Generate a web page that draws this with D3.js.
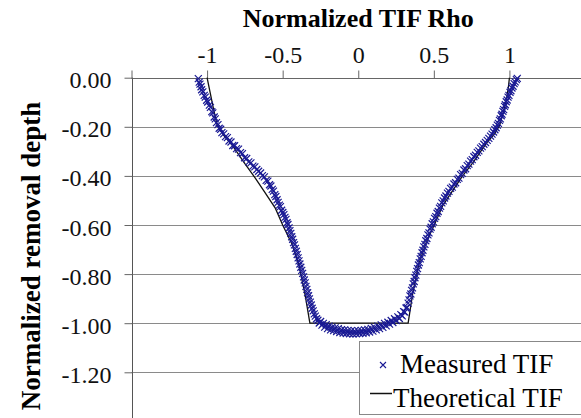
<!DOCTYPE html>
<html>
<head>
<meta charset="utf-8">
<script src="https://cdn.jsdelivr.net/npm/d3@7"></script>
<style>
  body { margin: 0; background: #fff; }
</style>
</head>
<body>
<div id="tif-chart"></div>
<script>
// tick values / labels
const xTicks = [-1.5, -1, -0.5, 0, 0.5, 1, 1.5];
const xTickLabels = ["", "-1", "-0.5", "0", "0.5", "1", ""];
const yTicks = [0, -0.2, -0.4, -0.6, -0.8, -1.0, -1.2];
const yTickLabels = ["0.00", "-0.20", "-0.40", "-0.60", "-0.80", "-1.00", "-1.20"];

// theoretical TIF profile [rho, depth]
const theoreticalTIF = [
  [-1.0, 0.0], [-0.98, -0.06], [-0.96, -0.12], [-0.935, -0.19], [-0.89, -0.235],
  [-0.84, -0.27], [-0.80, -0.305], [-0.75, -0.35], [-0.68, -0.41], [-0.62, -0.465],
  [-0.55, -0.53], [-0.50, -0.60], [-0.44, -0.675], [-0.39, -0.77], [-0.35, -0.89],
  [-0.32, -1.0], [0.33, -1.0], [0.36, -0.88], [0.40, -0.76], [0.45, -0.67],
  [0.51, -0.59], [0.56, -0.52], [0.63, -0.455], [0.69, -0.40], [0.76, -0.345],
  [0.81, -0.30], [0.85, -0.265], [0.90, -0.23], [0.935, -0.195], [0.96, -0.14],
  [0.98, -0.09], [0.993, -0.04], [1.0, 0.0]
];

// measured TIF [rho, depth]
const measuredTIF = [
  [-1.058, -0.004], [-1.052, -0.018], [-1.047, -0.026], [-1.040, -0.037], [-1.036, -0.049],
  [-1.028, -0.058], [-1.019, -0.072], [-1.012, -0.079], [-1.003, -0.092], [-0.996, -0.099],
  [-0.985, -0.112], [-0.978, -0.121], [-0.969, -0.138], [-0.962, -0.143], [-0.953, -0.160],
  [-0.946, -0.168], [-0.938, -0.183], [-0.928, -0.191], [-0.920, -0.206], [-0.910, -0.210],
  [-0.902, -0.224], [-0.890, -0.229], [-0.878, -0.240], [-0.866, -0.244], [-0.855, -0.258],
  [-0.842, -0.262], [-0.830, -0.276], [-0.818, -0.277], [-0.805, -0.289], [-0.792, -0.291],
  [-0.779, -0.305], [-0.766, -0.309], [-0.752, -0.326], [-0.738, -0.329], [-0.724, -0.343],
  [-0.710, -0.347], [-0.697, -0.360], [-0.684, -0.363], [-0.671, -0.374], [-0.659, -0.381],
  [-0.646, -0.388], [-0.634, -0.399], [-0.621, -0.404], [-0.609, -0.418], [-0.598, -0.421],
  [-0.587, -0.436], [-0.578, -0.441], [-0.569, -0.455], [-0.561, -0.462], [-0.552, -0.476],
  [-0.545, -0.484], [-0.537, -0.497], [-0.530, -0.508], [-0.522, -0.519], [-0.515, -0.525],
  [-0.507, -0.540], [-0.499, -0.549], [-0.492, -0.558], [-0.485, -0.569], [-0.478, -0.577],
  [-0.471, -0.591], [-0.465, -0.598], [-0.458, -0.612], [-0.452, -0.623], [-0.446, -0.634],
  [-0.440, -0.648], [-0.434, -0.658], [-0.428, -0.672], [-0.422, -0.681], [-0.416, -0.695],
  [-0.410, -0.707], [-0.404, -0.720], [-0.398, -0.734], [-0.392, -0.746], [-0.386, -0.759],
  [-0.380, -0.772], [-0.374, -0.785], [-0.368, -0.797], [-0.362, -0.811], [-0.357, -0.824],
  [-0.351, -0.836], [-0.346, -0.850], [-0.340, -0.862], [-0.335, -0.876], [-0.329, -0.888],
  [-0.323, -0.901], [-0.317, -0.914], [-0.311, -0.926], [-0.305, -0.939], [-0.298, -0.950],
  [-0.291, -0.962], [-0.284, -0.971], [-0.276, -0.982], [-0.267, -0.988], [-0.258, -0.999],
  [-0.249, -0.993], [-0.240, -1.008], [-0.231, -1.001], [-0.222, -1.016], [-0.212, -1.006],
  [-0.203, -1.022], [-0.193, -1.012], [-0.183, -1.027], [-0.173, -1.016], [-0.163, -1.030],
  [-0.153, -1.019], [-0.143, -1.034], [-0.132, -1.022], [-0.122, -1.038], [-0.111, -1.026],
  [-0.100, -1.040], [-0.090, -1.027], [-0.079, -1.042], [-0.068, -1.029], [-0.057, -1.043],
  [-0.046, -1.030], [-0.035, -1.044], [-0.024, -1.031], [-0.013, -1.043], [-0.002, -1.030],
  [0.009, -1.042], [0.020, -1.029], [0.031, -1.041], [0.042, -1.027], [0.053, -1.039],
  [0.064, -1.025], [0.075, -1.036], [0.086, -1.021], [0.097, -1.032], [0.108, -1.017],
  [0.119, -1.027], [0.130, -1.012], [0.141, -1.022], [0.152, -1.007], [0.163, -1.017],
  [0.174, -1.001], [0.185, -1.011], [0.196, -0.996], [0.207, -1.004], [0.218, -0.989],
  [0.229, -0.997], [0.240, -0.982], [0.251, -0.989], [0.262, -0.974], [0.272, -0.981],
  [0.282, -0.965], [0.291, -0.970], [0.300, -0.953], [0.308, -0.955], [0.316, -0.938],
  [0.323, -0.936], [0.330, -0.918], [0.336, -0.905], [0.342, -0.889], [0.348, -0.881],
  [0.353, -0.866], [0.359, -0.856], [0.364, -0.840], [0.370, -0.830], [0.375, -0.815],
  [0.381, -0.804], [0.387, -0.789], [0.392, -0.778], [0.398, -0.763], [0.404, -0.753],
  [0.410, -0.738], [0.416, -0.728], [0.422, -0.713], [0.428, -0.703], [0.434, -0.689],
  [0.441, -0.679], [0.447, -0.664], [0.454, -0.655], [0.461, -0.640], [0.468, -0.632],
  [0.475, -0.617], [0.482, -0.609], [0.489, -0.595], [0.497, -0.587], [0.505, -0.573],
  [0.513, -0.566], [0.521, -0.552], [0.529, -0.545], [0.537, -0.531], [0.545, -0.524],
  [0.553, -0.510], [0.562, -0.502], [0.571, -0.490], [0.580, -0.482], [0.590, -0.470],
  [0.600, -0.463], [0.611, -0.451], [0.622, -0.446], [0.633, -0.433], [0.644, -0.428],
  [0.655, -0.414], [0.666, -0.409], [0.677, -0.395], [0.688, -0.390], [0.699, -0.376],
  [0.710, -0.371], [0.721, -0.358], [0.732, -0.352], [0.743, -0.340], [0.754, -0.334],
  [0.765, -0.322], [0.776, -0.316], [0.787, -0.304], [0.798, -0.298], [0.809, -0.287],
  [0.820, -0.281], [0.831, -0.271], [0.842, -0.264], [0.853, -0.255], [0.864, -0.247],
  [0.875, -0.238], [0.885, -0.230], [0.895, -0.221], [0.904, -0.212], [0.912, -0.204],
  [0.920, -0.193], [0.927, -0.186], [0.934, -0.174], [0.940, -0.168], [0.946, -0.155],
  [0.951, -0.149], [0.957, -0.137], [0.962, -0.130], [0.968, -0.117], [0.973, -0.110],
  [0.979, -0.098], [0.985, -0.091], [0.991, -0.079], [0.997, -0.072], [1.004, -0.060],
  [1.010, -0.053], [1.017, -0.042], [1.024, -0.035], [1.031, -0.024], [1.038, -0.017],
  [1.046, -0.008], [1.052, -0.003]
];

const width = 581, height = 418;
const blue = "#1a1a94";
const serif = "Liberation Serif";

const svg = d3.select("#tif-chart")
  .append("svg")
    .attr("width", width)
    .attr("height", height)
    .attr("font-family", serif);

svg.append("rect").attr("width", width).attr("height", height).attr("fill", "#fff");

// scales
const x = d3.scaleLinear().domain([-1.5, 1.5]).range([131.5, 585]);
const y = d3.scaleLinear().domain([-1.4, 0]).range([421.4, 77.7]);

// horizontal gridlines
svg.append("g")
  .selectAll("line")
  .data(yTicks.filter(d => d < 0))
  .join("line")
    .attr("x1", x(-1.5))
    .attr("x2", width)
    .attr("y1", d => Math.round(y(d)) + 0.5)
    .attr("y2", d => Math.round(y(d)) + 0.5)
    .attr("stroke", "#8a8a8a")
    .attr("stroke-width", 1);

// X axis on top
const xAxis = svg.append("g")
  .attr("transform", `translate(0,${Math.round(y(0)) + 0.5})`)
  .call(d3.axisTop(x)
    .tickValues(xTicks)
    .tickSize(8)
    .tickSizeOuter(0)
    .tickPadding(8)
    .tickFormat((d, i) => xTickLabels[i]));
xAxis.attr("font-family", serif);
xAxis.select(".domain").attr("stroke", "#666").attr("d", `M${x(-1.5)},0H${width}`);
xAxis.selectAll(".tick line").attr("stroke", "#666");
xAxis.selectAll(".tick text").attr("font-size", 24).attr("fill", "#111");

// Y axis on left
const yAxis = svg.append("g")
  .attr("transform", `translate(${Math.round(x(-1.5)) + 0.5},0)`)
  .call(d3.axisLeft(y)
    .tickValues(yTicks)
    .tickSize(8)
    .tickSizeOuter(0)
    .tickPadding(13)
    .tickFormat((d, i) => yTickLabels[i]));
yAxis.attr("font-family", serif);
yAxis.select(".domain").attr("stroke", "#555").attr("d", `M0,${y(0)}V${height}`);
yAxis.selectAll(".tick line").attr("stroke", "#666");
yAxis.selectAll(".tick text")
  .attr("font-size", 24)
  .attr("fill", "#111")
  .attr("dy", "0.42em");

// theoretical line
const line = d3.line().x(d => x(d[0])).y(d => y(d[1]));
svg.append("path")
  .datum(theoreticalTIF)
  .attr("d", line)
  .attr("fill", "none")
  .attr("stroke", "#111")
  .attr("stroke-width", 1.3);

// measured markers
const cross = "M-3.5,-3.5L3.5,3.5M-3.5,3.5L3.5,-3.5";
svg.append("g")
  .selectAll("path")
  .data(measuredTIF)
  .join("path")
    .attr("transform", d => `translate(${x(d[0])},${y(d[1])})`)
    .attr("d", cross)
    .attr("stroke", blue)
    .attr("stroke-width", 1.2)
    .attr("fill", "none");

// titles
svg.append("text")
  .attr("x", x(0))
  .attr("y", 27)
  .attr("text-anchor", "middle")
  .attr("font-size", 26)
  .attr("font-weight", "bold")
  .text("Normalized TIF Rho");

svg.append("text")
  .attr("transform", "translate(40,256) rotate(-90)")
  .attr("text-anchor", "middle")
  .attr("font-size", 27)
  .attr("font-weight", "bold")
  .text("Normalized removal depth");

// legend
const legend = svg.append("g");
legend.append("rect")
  .attr("x", 359.5).attr("y", 341.5)
  .attr("width", 240).attr("height", 73)
  .attr("fill", "#fff")
  .attr("stroke", "#888");
legend.append("path")
  .attr("transform", "translate(383,365)")
  .attr("d", "M-3,-3L3,3M-3,3L3,-3")
  .attr("stroke", blue)
  .attr("stroke-width", 1.1);
legend.append("text")
  .attr("x", 400).attr("y", 373)
  .attr("font-size", 27)
  .text("Measured TIF");
legend.append("line")
  .attr("x1", 370).attr("x2", 392)
  .attr("y1", 393.5).attr("y2", 393.5)
  .attr("stroke", "#111")
  .attr("stroke-width", 1.5);
legend.append("text")
  .attr("x", 393).attr("y", 407)
  .attr("font-size", 27)
  .text("Theoretical TIF");
</script>
</body>
</html>
